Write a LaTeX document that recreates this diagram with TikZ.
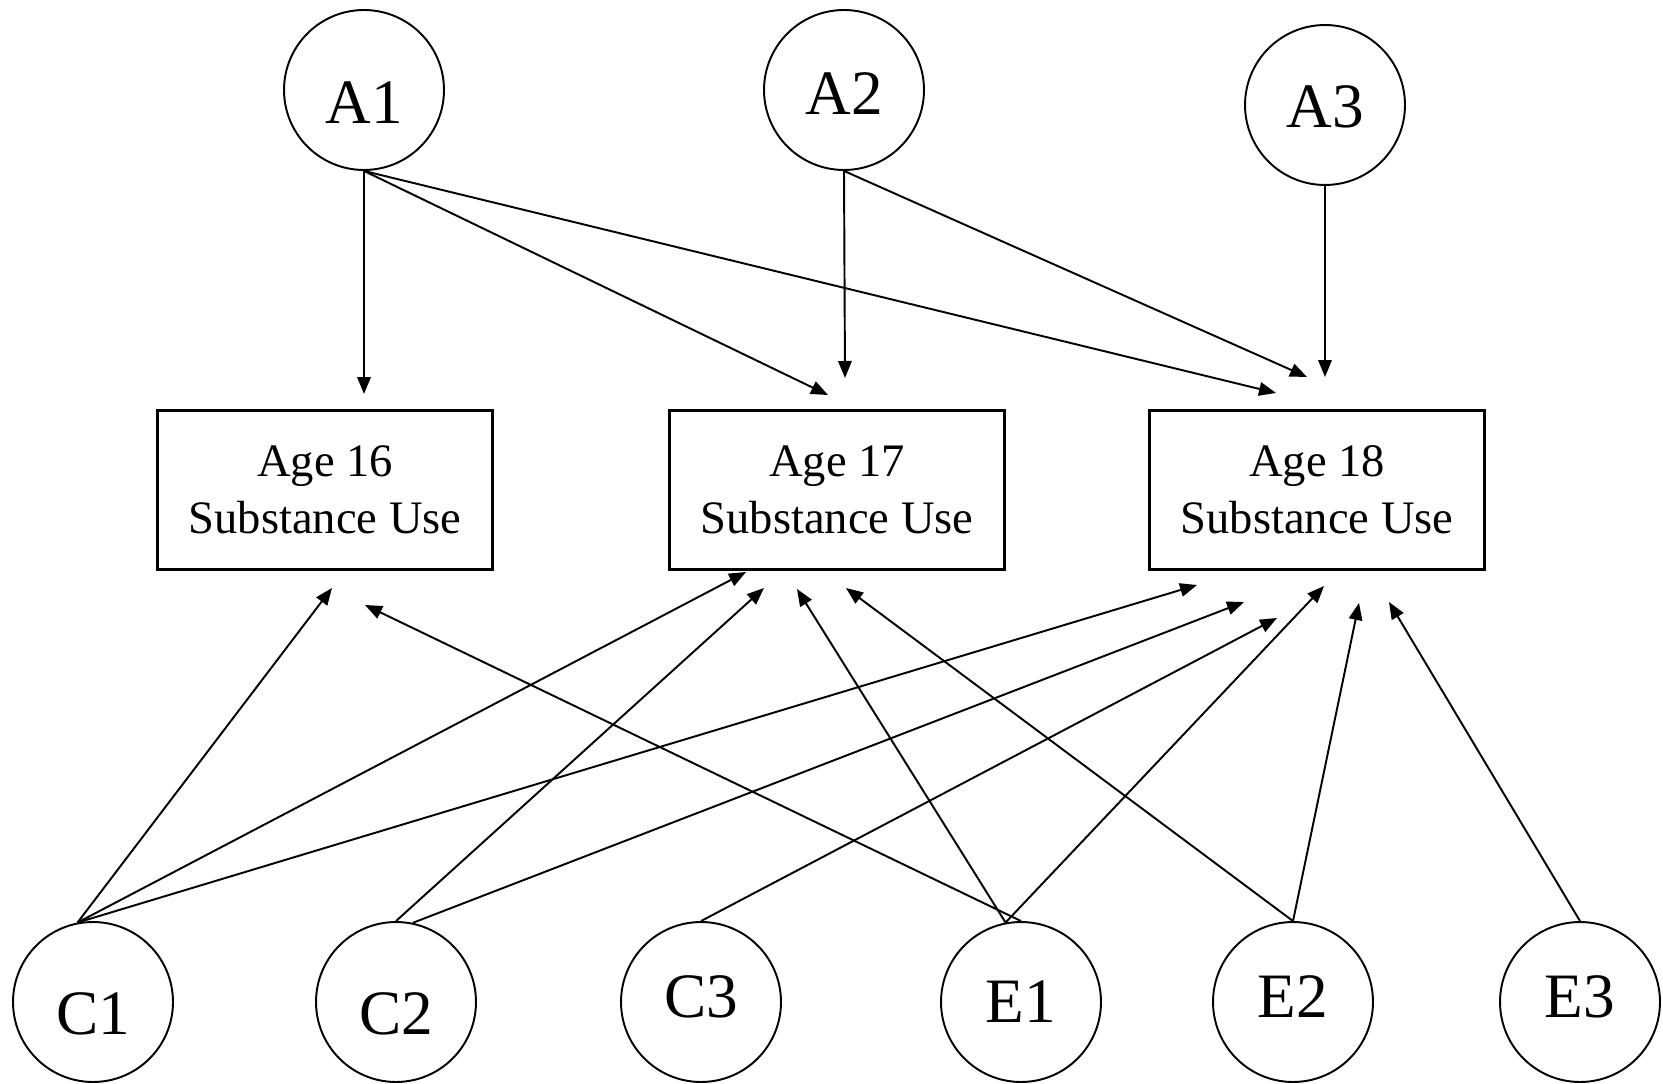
\documentclass[tikz,border=0pt]{standalone}
\usepackage{fontspec}
\setmainfont{Liberation Serif}
\usepackage{tikz}
\usetikzlibrary{arrows.meta}

% move a circle label up or down without moving the circle
\newcommand{\nudgelabel}[2]{\raisebox{#1}[\height][\depth]{#2}}

\begin{document}
\begin{tikzpicture}[
    x=0.02cm,y=-0.02cm,
    factor/.style={draw,circle,minimum size=3.2cm,inner sep=0pt,line width=1.1pt,
                   font=\fontsize{36}{40}\selectfont},
    measure/.style={draw,rectangle,align=center,minimum width=6.72cm,minimum height=3.2cm,
                    inner sep=0pt,line width=1.7pt,font=\fontsize{26.5}{32.5}\selectfont},
    arrow/.style={-{Triangle[length=0.34cm,width=0.27cm]},line width=1.1pt}
]
\useasboundingbox (0,0) rectangle (1663,1084);

% latent factors
\node[factor] (a1) at (364,90) {\nudgelabel{-7pt}{A1}};
\node[factor] (a2) at (844,90) {\nudgelabel{-2pt}{A2}};
\node[factor] (a3) at (1325,105) {\nudgelabel{-1pt}{A3}};
\node[factor] (c1) at (93,1002) {\nudgelabel{-7pt}{C1}};
\node[factor] (c2) at (396,1002) {\nudgelabel{-7pt}{C2}};
\node[factor] (c3) at (701,1002) {\nudgelabel{3pt}{C3}};
\node[factor] (e1) at (1021,1002) {E1};
\node[factor] (e2) at (1293,1002) {\nudgelabel{3pt}{E2}};
\node[factor] (e3) at (1580,1002) {\nudgelabel{3pt}{E3}};

% observed measures
\node[measure] (age16) at (325,490) {Age 16\\Substance Use};
\node[measure] (age17) at (837,490) {Age 17\\Substance Use};
\node[measure] (age18) at (1317,490) {Age 18\\Substance Use};

% arrow ends (they stop short of the boxes)
\coordinate (a1to16) at (364,394);
\coordinate (a1to17) at (828,395);
\coordinate (a1to18) at (1276,393);
\coordinate (a2to17) at (845,378);
\coordinate (a2to18) at (1307,377);
\coordinate (a3to18) at (1325,377);
\coordinate (c1to16) at (332,588);
\coordinate (c1to17) at (746,572);
\coordinate (c1to18) at (1197,585);
\coordinate (c2to17) at (764,588);
\coordinate (c2to18) at (1244,602);
\coordinate (c3to18) at (1277,618);
\coordinate (e1to16) at (365,605);
\coordinate (e1to17) at (797,589);
\coordinate (e1to18) at (1324,586);
\coordinate (e2to17) at (846,588);
\coordinate (e2to18) at (1359,603);
\coordinate (e3to18) at (1389,602);

\draw[arrow] (a1.south) -- (a1to16);
\draw[arrow] (a1.south) -- (a1to17);
\draw[arrow] (a1.south) -- (a1to18);
\draw[arrow] (a2.south) -- (a2to17);
\draw[arrow] (a2.south) -- (a2to18);
\draw[arrow] (a3.south) -- (a3to18);

\draw[arrow] (c1.101) -- (c1to16);
\draw[arrow] (c1.101) -- (c1to17);
\draw[arrow] (c1.101) -- (c1to18);
\draw[arrow] (c2.north) -- (c2to17);
\draw[arrow] (c2.78) -- (c2to18);
\draw[arrow] (c3.north) -- (c3to18);
\draw[arrow] (e1.north) -- (e1to16);
\draw[arrow] (e1.101) -- (e1to17);
\draw[arrow] (e1.101) -- (e1to18);
\draw[arrow] (e2.north) -- (e2to17);
\draw[arrow] (e2.north) -- (e2to18);
\draw[arrow] (e3.north) -- (e3to18);
\end{tikzpicture}
\end{document}
